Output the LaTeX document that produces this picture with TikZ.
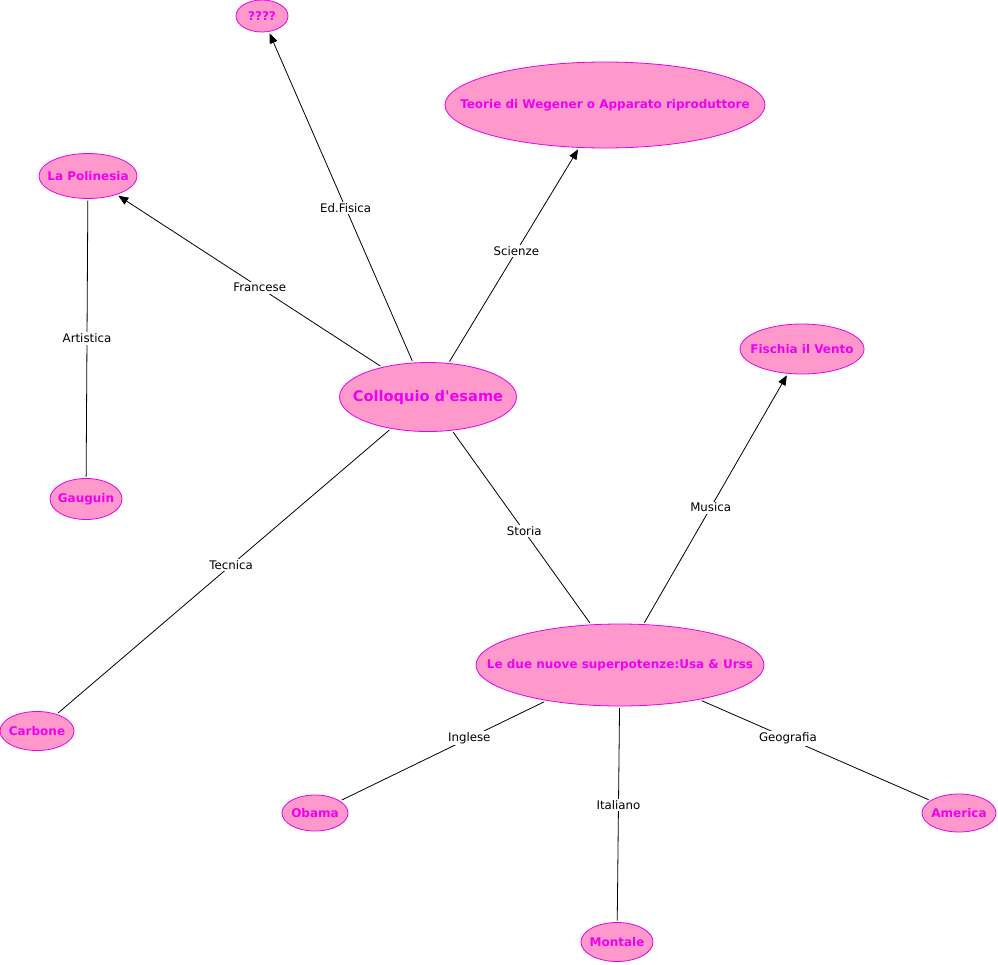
\documentclass[tikz,border=0pt]{standalone}
\usepackage{fontspec}
\setmainfont{DejaVu Sans}
\newfontfamily\plainfont{DejaVu Sans}
\usetikzlibrary{shapes.geometric,arrows.meta}
\definecolor{nodefill}{HTML}{FF99CC}
\definecolor{nodeline}{HTML}{E600E6}
\definecolor{nodetext}{HTML}{F000F0}
\newcommand{\ctext}[1]{\makebox[0pt]{#1}}
\begin{document}
\begin{tikzpicture}[x=1pt,y=-1pt,
  concept/.style={ellipse,draw=nodeline,fill=nodefill,text=nodetext,
    font=\plainfont\bfseries\fontsize{12}{14}\selectfont,inner sep=0pt,outer sep=2pt,line width=0.8pt},
  lbl/.style={fill=white,inner sep=1.5pt,font=\fontsize{11.8}{14}\selectfont,text=black},
  link/.style={draw=black,line width=0.8pt},
  arr/.style={link,-{Triangle[length=10pt,width=8pt]}}]
\useasboundingbox (0,0) rectangle (998,964);
\node[concept,minimum width=52pt,minimum height=32pt] (q) at (262,16) {\ctext{????}};
\node[concept,minimum width=320pt,minimum height=86pt] (teo) at (605,105) {\ctext{Teorie di Wegener o Apparato riproduttore}};
\node[concept,minimum width=98pt,minimum height=45pt] (pol) at (88,176) {\ctext{La Polinesia}};
\node[concept,minimum width=177pt,minimum height=69pt,font=\plainfont\bfseries\fontsize{14.6}{17}\selectfont] (col) at (428,397) {\ctext{Colloquio d'esame}};
\node[concept,minimum width=124pt,minimum height=50pt] (fis) at (802,349) {\ctext{Fischia il Vento}};
\node[concept,minimum width=72pt,minimum height=41pt] (gau) at (86,499) {\ctext{Gauguin}};
\node[concept,minimum width=74pt,minimum height=39pt] (car) at (37,731) {\ctext{Carbone}};
\node[concept,minimum width=288pt,minimum height=82pt] (due) at (620,665) {\ctext{Le due nuove superpotenze:Usa \& Urss}};
\node[concept,minimum width=66pt,minimum height=36pt] (oba) at (315,813) {\ctext{Obama}};
\node[concept,minimum width=74pt,minimum height=38pt] (ame) at (959,813) {\ctext{America}};
\node[concept,minimum width=72pt,minimum height=39pt] (mon) at (617,942) {\ctext{Montale}};

\draw[arr] (col) -- node[lbl,pos=0.467] {Ed.Fisica} (q);
\draw[arr] (col) -- node[lbl,pos=0.52] {Scienze} (teo);
\draw[arr] (col) -- node[lbl,pos=0.46] {Francese} (pol);
\draw[link] (pol) -- node[lbl,pos=0.50] {Artistica} (gau);
\draw[link] (col) -- node[lbl,pos=0.478] {Tecnica} (car);
\draw[link] (col) -- node[lbl,pos=0.52] {Storia} (due);
\draw[arr] (due) -- node[lbl,pos=0.465] {Musica} (fis);
\draw[link] (due) -- node[lbl,pos=0.37] {Inglese} (oba);
\draw[link] (due) -- node[lbl,pos=0.455] {Italiano} (mon);
\draw[link] (due) -- node[lbl,pos=0.38] {Geografia} (ame);
\end{tikzpicture}
\end{document}
